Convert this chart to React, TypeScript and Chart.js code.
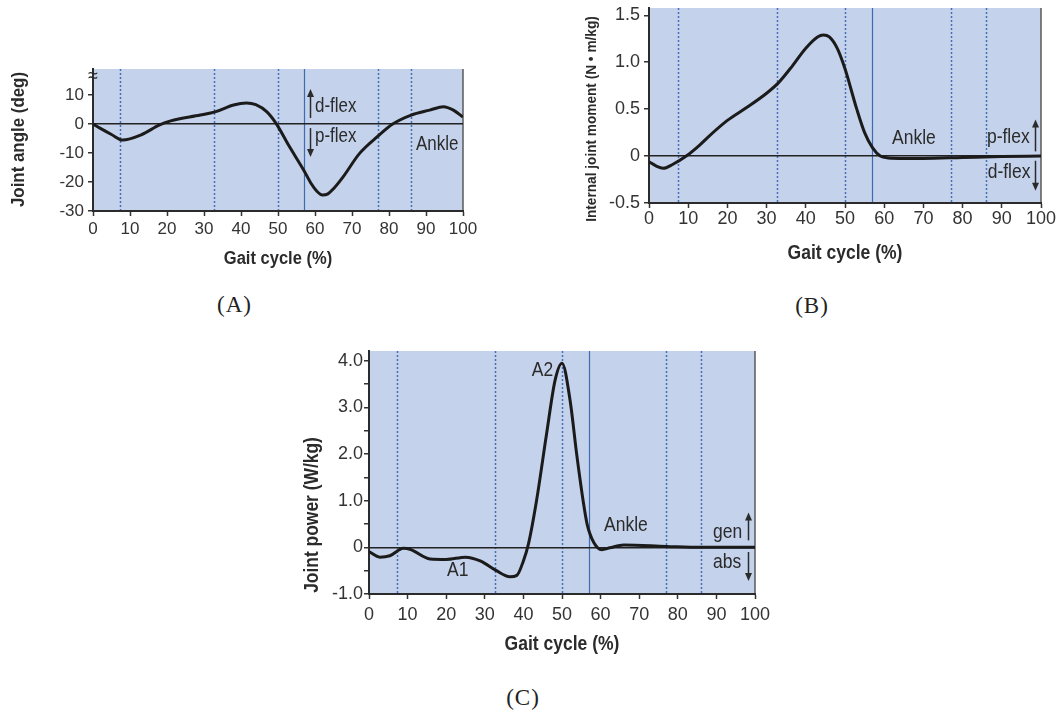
import React, { useEffect, useMemo, useRef } from "react";
import { Chart, registerables } from "chart.js";

Chart.register(...registerables);

// ---------------- data ----------------
const GAIT_TICKS = [0, 10, 20, 30, 40, 50, 60, 70, 80, 90, 100];
const EVENT_DOTTED = [7.3, 32.7, 50, 77, 86];
const EVENT_SOLID = [57];

const ANGLE_PCT = [0, 2, 5, 8, 13, 18, 21, 29, 33, 38, 41.5, 44, 47, 49.6, 53, 57, 59, 60.5, 62, 63.5, 65, 67.6, 72, 77, 81, 86, 91, 94.7, 97.4, 100];
const ANGLE_DEG = [0, -1.5, -3.6, -5.5, -3.7, -0.3, 1.1, 3.1, 4.2, 6.6, 7.3, 6.7, 4.2, 0, -7.6, -16, -20.6, -23.2, -24.5, -24.1, -22.3, -18.2, -10.2, -4.2, 0, 3.1, 4.8, 6, 4.8, 2.4];
const ANGLE_TICKS = [-30, -20, -10, 0, 10];

const MOMENT_PCT = [0, 2, 3.6, 6, 9.5, 13, 15, 20, 25, 30, 33, 36, 40, 43, 44.5, 46, 48, 50, 53, 55, 57, 59, 61, 65, 70, 80, 90, 100];
const MOMENT_VAL = [-0.06, -0.11, -0.13, -0.09, 0, 0.12, 0.2, 0.38, 0.52, 0.67, 0.78, 0.93, 1.15, 1.27, 1.29, 1.27, 1.15, 0.93, 0.5, 0.25, 0.09, 0, -0.02, -0.025, -0.025, -0.015, -0.005, 0];
const MOMENT_TICKS = [-0.5, 0, 0.5, 1, 1.5];

const POWER_PCT = [0, 2.8, 5.4, 8.9, 10.6, 15.8, 20, 25, 28.8, 33, 36.5, 38.3, 40, 41.3, 43.4, 46, 48.2, 50, 52.1, 53.8, 55.6, 56.5, 58.2, 60.3, 62.4, 66, 77, 86, 100];
const POWER_VAL = [-0.09, -0.21, -0.18, -0.02, -0.04, -0.25, -0.26, -0.21, -0.29, -0.5, -0.63, -0.6, -0.29, 0.07, 1.0, 2.43, 3.58, 3.95, 3.15, 2.0, 0.93, 0.5, 0.11, -0.05, -0.01, 0.05, 0.02, 0, 0];
const POWER_TICKS = [-1, -0.5, 0, 0.5, 1, 1.5, 2, 2.5, 3, 3.5, 4];

// ---------------- styling ----------------
const BG = "#c4d2eb";
const DOT_COLOR = "#4470b8";
const SOLID_COLOR = "#3d6cb3";
const INK = "#2b2b2b";
const FAMILY = '"Liberation Sans", Arial, sans-serif';
const COND = 0.88;

type Note = { x: number; y: number; text: string; align?: CanvasTextAlign };
type Arrow = { x: number; from: number; to: number };
type Spec = {
  pct: number[];
  val: number[];
  yMin: number;
  yMax: number;
  yTicks: number[];
  fmt: (v: number) => string;
  left: number;
  top: number;
  width: number;
  height: number;
  padTop: number;
  padRight: number;
  yAxisW: number;
  xAxisH: number;
  tickSize: number;
  xLabelOffset: number;
  yLabelPad: number;
  noteSize: number;
  notes: Note[];
  arrows: Arrow[];
  xTitle: { text: string; y: number; size: number };
  yTitle: { text: string; x: number; y: number; size: number };
  breakMark?: boolean;
};

function condText(ctx: CanvasRenderingContext2D, text: string, x: number, y: number, align: CanvasTextAlign, rot = 0) {
  ctx.save();
  ctx.translate(x, y);
  if (rot) ctx.rotate(rot);
  ctx.scale(COND, 1);
  ctx.textAlign = align;
  ctx.fillText(text, 0, 0);
  ctx.restore();
}

function makeDecor(spec: Spec) {
  return {
    id: "gaitDecor",
    beforeDraw(chart: any) {
      const { ctx, chartArea: a } = chart;
      const xs = chart.scales.x;
      ctx.save();
      ctx.fillStyle = BG;
      ctx.fillRect(a.left, a.top, a.right - a.left, a.bottom - a.top);
      ctx.lineWidth = 1.5;
      ctx.strokeStyle = DOT_COLOR;
      ctx.setLineDash([2, 2]);
      for (const v of EVENT_DOTTED) {
        const px = Math.round(xs.getPixelForValue(v)) + 0.5;
        ctx.beginPath();
        ctx.moveTo(px, a.top);
        ctx.lineTo(px, a.bottom);
        ctx.stroke();
      }
      ctx.setLineDash([]);
      ctx.lineWidth = 1.2;
      ctx.strokeStyle = SOLID_COLOR;
      for (const v of EVENT_SOLID) {
        const px = Math.round(xs.getPixelForValue(v)) + 0.5;
        ctx.beginPath();
        ctx.moveTo(px, a.top);
        ctx.lineTo(px, a.bottom);
        ctx.stroke();
      }
      ctx.strokeStyle = "#5a5a5a";
      ctx.lineWidth = 1.5;
      ctx.beginPath();
      ctx.moveTo(a.right, a.top);
      ctx.lineTo(a.right, a.bottom);
      ctx.stroke();
      ctx.restore();
    },
    afterDraw(chart: any) {
      const { ctx, chartArea: a } = chart;
      const xs = chart.scales.x;
      const ys = chart.scales.y;
      ctx.save();
      ctx.fillStyle = INK;
      ctx.strokeStyle = INK;
      ctx.textBaseline = "middle";
      ctx.font = `${spec.noteSize}px ${FAMILY}`;
      for (const n of spec.notes) {
        condText(ctx, n.text, xs.getPixelForValue(n.x), ys.getPixelForValue(n.y), n.align || "left");
      }
      ctx.lineWidth = 1.5;
      for (const ar of spec.arrows) {
        const px = Math.round(xs.getPixelForValue(ar.x)) + 0.5;
        const y1 = ys.getPixelForValue(ar.from);
        const y2 = ys.getPixelForValue(ar.to);
        const dir = y1 > y2 ? 1 : -1;
        ctx.beginPath();
        ctx.moveTo(px, y1);
        ctx.lineTo(px, y2 + dir * 6);
        ctx.stroke();
        ctx.beginPath();
        ctx.moveTo(px, y2);
        ctx.lineTo(px - 3.5, y2 + dir * 8);
        ctx.lineTo(px + 3.5, y2 + dir * 8);
        ctx.closePath();
        ctx.fill();
      }
      if (spec.breakMark) {
        ctx.font = `20px ${FAMILY}`;
        condText(ctx, "\u2248", a.left, ys.getPixelForValue(16.3), "center");
      }
      // axis titles
      ctx.font = `bold ${spec.xTitle.size}px ${FAMILY}`;
      condText(ctx, spec.xTitle.text, (a.left + a.right) / 2, spec.xTitle.y, "center");
      ctx.font = `bold ${spec.yTitle.size}px ${FAMILY}`;
      condText(ctx, spec.yTitle.text, spec.yTitle.x, spec.yTitle.y, "center", -Math.PI / 2);
      ctx.restore();
    },
  };
}

function buildConfig(spec: Spec): any {
  const tickFont = { family: FAMILY, size: spec.tickSize };
  const xPad = Math.max(0, Math.round(spec.xLabelOffset - 5 - 0.6 * spec.tickSize));
  return {
    type: "line",
    data: {
      datasets: [
        {
          data: spec.pct.map((p, i) => ({ x: p, y: spec.val[i] })),
          borderColor: "#1b1b1b",
          borderWidth: 3,
          pointRadius: 0,
          fill: false,
          cubicInterpolationMode: "monotone",
        },
      ],
    },
    options: {
      animation: false,
      responsive: false,
      layout: { padding: { top: spec.padTop, right: spec.padRight, left: 0, bottom: 0 } },
      plugins: { legend: { display: false }, tooltip: { enabled: false } },
      scales: {
        x: {
          type: "linear",
          min: 0,
          max: 100,
          afterBuildTicks: (s: any) => {
            s.ticks = GAIT_TICKS.map((v) => ({ value: v }));
          },
          afterFit: (s: any) => {
            s.height = spec.xAxisH;
            s.paddingLeft = 0;
            s.paddingRight = 0;
          },
          ticks: { font: tickFont, color: "#333", padding: xPad, maxRotation: 0, autoSkip: false },
          grid: { drawOnChartArea: false, drawTicks: true, tickLength: 5, tickColor: "#333", tickWidth: 1.5 },
          border: { display: true, color: "#2b2b2b", width: 2 },
        },
        y: {
          type: "linear",
          min: spec.yMin,
          max: spec.yMax,
          afterBuildTicks: (s: any) => {
            s.ticks = spec.yTicks.map((v) => ({ value: v }));
          },
          afterFit: (s: any) => {
            s.width = spec.yAxisW;
            s.paddingTop = 0;
            s.paddingBottom = 0;
          },
          ticks: {
            font: tickFont,
            color: "#333",
            padding: spec.yLabelPad,
            autoSkip: false,
            callback: (v: any) => spec.fmt(Number(v)),
          },
          grid: {
            drawOnChartArea: true,
            color: (c: any) => (c.tick && c.tick.value === 0 ? "#222" : "rgba(0,0,0,0)"),
            lineWidth: 1.5,
            drawTicks: true,
            tickLength: 5,
            tickColor: "#333",
            tickWidth: 1.5,
          },
          border: { display: true, color: "#2b2b2b", width: 2 },
        },
      },
    },
    plugins: [makeDecor(spec)],
  };
}

function GaitPanel({ spec }: { spec: Spec }) {
  const ref = useRef<HTMLCanvasElement>(null);
  useEffect(() => {
    const canvas = ref.current;
    if (!canvas) return;
    const chart = new Chart(canvas, buildConfig(spec));
    return () => chart.destroy();
  }, [spec]);
  return (
    <canvas
      ref={ref}
      width={spec.width}
      height={spec.height}
      style={{ position: "absolute", left: spec.left, top: spec.top, width: spec.width, height: spec.height }}
    />
  );
}

const CAPTIONS = [
  { text: "(A)", cx: 234.5, cy: 305 },
  { text: "(B)", cx: 812, cy: 306 },
  { text: "(C)", cx: 523, cy: 698 },
];

const SPECS: Spec[] = [
  {
    pct: ANGLE_PCT,
    val: ANGLE_DEG,
    yMin: -30,
    yMax: 19,
    yTicks: ANGLE_TICKS,
    fmt: (v) => String(v),
    left: 0,
    top: 60,
    width: 480,
    height: 215,
    padTop: 9,
    padRight: 17,
    yAxisW: 93,
    xAxisH: 64,
    tickSize: 17,
    xLabelOffset: 18,
    yLabelPad: 4,
    noteSize: 19.3,
    notes: [
      { x: 60, y: 5.9, text: "d-flex" },
      { x: 60, y: -4.5, text: "p-flex" },
      { x: 87.3, y: -7.2, text: "Ankle" },
    ],
    arrows: [
      { x: 58.6, from: 2.1, to: 12.1 },
      { x: 58.6, from: -1.4, to: -11.4 },
    ],
    xTitle: { text: "Gait cycle (%)", y: 199, size: 18.8 },
    yTitle: { text: "Joint angle (deg)", x: 19, y: 79.5, size: 19.2 },
    breakMark: true,
  },
  {
    pct: MOMENT_PCT,
    val: MOMENT_VAL,
    yMin: -0.5,
    yMax: 1.578,
    yTicks: MOMENT_TICKS,
    fmt: (v) => (v === 0 ? "0" : v.toFixed(1)),
    left: 560,
    top: 0,
    width: 497,
    height: 270,
    padTop: 8,
    padRight: 16,
    yAxisW: 89,
    xAxisH: 67,
    tickSize: 18,
    xLabelOffset: 16,
    yLabelPad: 4,
    noteSize: 19.9,
    notes: [
      { x: 62, y: 0.19, text: "Ankle" },
      { x: 86.2, y: 0.2, text: "p-flex" },
      { x: 86.4, y: -0.17, text: "d-flex" },
    ],
    arrows: [
      { x: 98.5, from: 0.05, to: 0.39 },
      { x: 98.5, from: -0.05, to: -0.37 },
    ],
    xTitle: { text: "Gait cycle (%)", y: 254, size: 19.9 },
    yTitle: { text: "Internal joint moment (N \u2022 m/kg)", x: 32, y: 119, size: 15.5 },
  },
  {
    pct: POWER_PCT,
    val: POWER_VAL,
    yMin: -1,
    yMax: 4.21,
    yTicks: POWER_TICKS,
    fmt: (v) => (Number.isInteger(v) ? (v === 0 ? "0" : v.toFixed(1)) : ""),
    left: 300,
    top: 340,
    width: 480,
    height: 320,
    padTop: 11,
    padRight: 25,
    yAxisW: 69,
    xAxisH: 66,
    tickSize: 18,
    xLabelOffset: 21,
    yLabelPad: 1,
    noteSize: 19.9,
    notes: [
      { x: 47.7, y: 3.79, text: "A2", align: "right" },
      { x: 23, y: -0.49, text: "A1", align: "center" },
      { x: 60.9, y: 0.47, text: "Ankle" },
      { x: 89.1, y: 0.32, text: "gen" },
      { x: 89.1, y: -0.32, text: "abs" },
    ],
    arrows: [
      { x: 98.2, from: 0.15, to: 0.75 },
      { x: 98.2, from: -0.1, to: -0.72 },
    ],
    xTitle: { text: "Gait cycle (%)", y: 305, size: 19.9 },
    yTitle: { text: "Joint power (W/kg)", x: 13, y: 175, size: 19.8 },
  },
];

export default function App() {
  const specs = useMemo(() => SPECS, []);
  return (
    <div
      style={{
        position: "absolute",
        left: 0,
        top: 0,
        width: 1057,
        height: 711,
        background: "#ffffff",
        overflow: "hidden",
      }}
    >
      {specs.map((sp, i) => (
        <GaitPanel key={i} spec={sp} />
      ))}
      {CAPTIONS.map((c) => (
        <div
          key={c.text}
          style={{
            position: "absolute",
            left: c.cx - 50,
            top: c.cy - 13,
            width: 100,
            height: 26,
            lineHeight: "26px",
            textAlign: "center",
            font: '23px "Liberation Serif", "DejaVu Serif", serif',
            letterSpacing: 1,
            color: "#222",
          }}
        >
          {c.text}
        </div>
      ))}
    </div>
  );
}
